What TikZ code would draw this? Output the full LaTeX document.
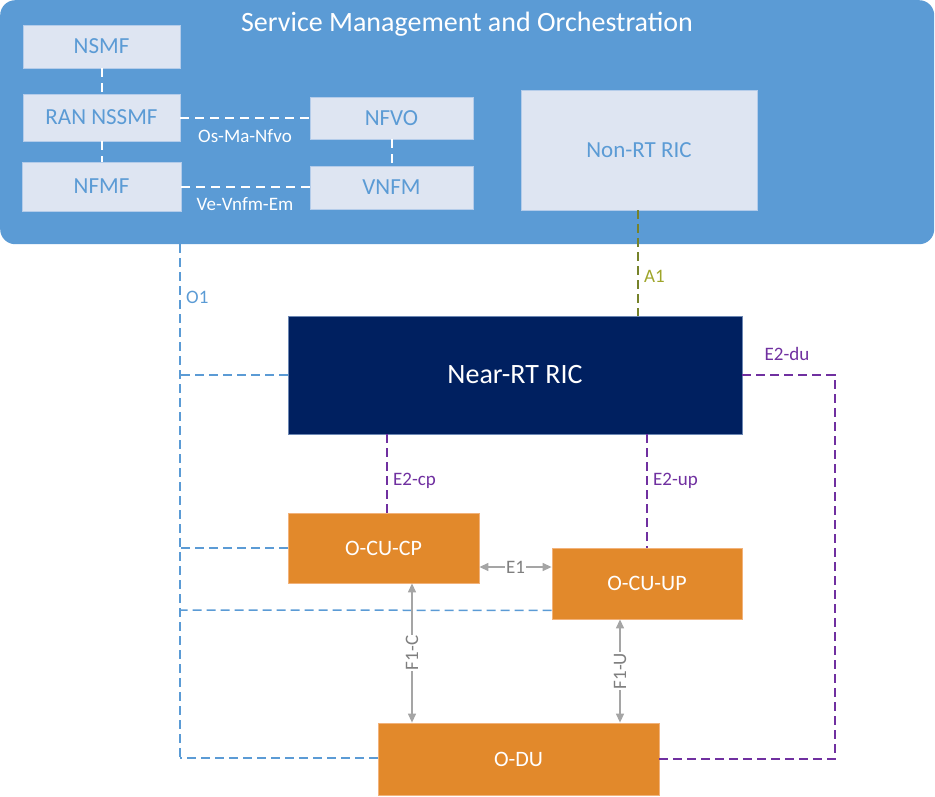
\documentclass[tikz,border=0pt]{standalone}
\usepackage{fontspec}
\setmainfont{Carlito}
\usetikzlibrary{arrows.meta,calc}
\definecolor{smoblue}{HTML}{5B9BD5}
\definecolor{lightbox}{HTML}{DEE5F2}
\definecolor{lightedge}{HTML}{B4CCEA}
\definecolor{navy}{HTML}{002060}
\definecolor{orng}{HTML}{E2892B}
\definecolor{orngedge}{HTML}{F2B27A}
\definecolor{purp}{HTML}{7030A0}
\definecolor{oliveline}{HTML}{76822A}
\definecolor{olivetext}{HTML}{9EA52A}
\definecolor{arrgray}{HTML}{A5A5A5}
\definecolor{txtgray}{HTML}{7F7F7F}
\tikzset{
  smobox/.style={rectangle, fill=lightbox, draw=lightedge, line width=0.8pt, text=smoblue, font=\fontsize{23}{26}\selectfont, inner sep=0pt},
  orbox/.style={rectangle, fill=orng, draw=orngedge, line width=0.8pt, text=white, font=\fontsize{22}{25}\selectfont, inner sep=0pt},
  whdash/.style={draw=white, line width=2pt, dash pattern=on 9pt off 6pt},
  bldash/.style={draw=smoblue, line width=1.5pt, dash pattern=on 9pt off 5pt},
  pudash/.style={draw=purp, line width=1.5pt, dash pattern=on 9pt off 5pt},
  oldash/.style={draw=oliveline, line width=1.5pt, dash pattern=on 9pt off 5pt},
  grarrow/.style={draw=arrgray, line width=1.3pt, {Triangle[length=9pt,width=8pt]}-{Triangle[length=9pt,width=8pt]}},
  lbl/.style={font=\fontsize{19}{21}\selectfont, inner sep=1pt},
}
\begin{document}
\begin{tikzpicture}[x=1pt,y=-1pt]
\useasboundingbox (0,0) rectangle (935,796);
% SMO frame
\node[rectangle, rounded corners=15pt, fill=smoblue, draw=none, anchor=north west, minimum width=934pt, minimum height=244pt, inner sep=0pt] (smo) at (0,0) {};
\node[text=white, font=\fontsize{28}{30}\selectfont] (title) at (467,24) {Service Management and Orchestration};
% SMO boxes
\node[smobox, minimum width=157pt, minimum height=43pt] (nsmf) at (101.5,46.5) {NSMF};
\node[smobox, minimum width=157pt, minimum height=47pt] (nssmf) at (101.5,117.5) {RAN NSSMF};
\node[smobox, minimum width=159pt, minimum height=49pt] (nfmf) at (101.5,186.5) {NFMF};
\node[smobox, minimum width=163pt, minimum height=42pt] (nfvo) at (391.5,118) {NFVO};
\node[smobox, minimum width=163pt, minimum height=43pt] (vnfm) at (391.5,187.5) {VNFM};
\node[smobox, minimum width=236pt, minimum height=120pt] (nonrt) at (639,150) {Non-RT RIC};
% SMO internal links
\draw[whdash] (nsmf.south) -- (nssmf.north);
\draw[whdash] (nssmf.south) -- (nfmf.north);
\draw[whdash] (nfvo.south) -- (vnfm.north);
\draw[whdash] (nssmf.east) -- (nfvo.west |- nssmf.east);
\draw[whdash] (nfmf.east) -- (vnfm.west |- nfmf.east);
\node[lbl, text=white] (osma) at (245,136) {Os-Ma-Nfvo};
\node[lbl, text=white] (vevn) at (245,204) {Ve-Vnfm-Em};
% RAN nodes
\node[rectangle, fill=navy, draw=lightedge!60!navy, line width=0.8pt, text=white, font=\fontsize{28}{30}\selectfont, minimum width=454pt, minimum height=118pt, inner sep=0pt] (near) at (515,375) {Near-RT RIC};
\node[orbox, minimum width=191pt, minimum height=70pt] (cucp) at (383.5,548) {O-CU-CP};
\node[orbox, minimum width=190pt, minimum height=71pt] (cuup) at (647,583.5) {O-CU-UP};
\node[orbox, minimum width=281pt, minimum height=72pt] (odu) at (518.5,759) {O-DU};
% O1
\coordinate (o1top) at (180,244);
\coordinate (o1bot) at (180,758);
\draw[bldash] (o1top) -- (o1bot);
\draw[bldash] (near.west) -- (near.west -| o1top);
\draw[bldash] (cucp.west) -- (cucp.west -| o1top);
\draw[bldash] ($(cuup.south west)+(0,-9)$) -- (180,610);
\draw[bldash] (odu.west |- o1bot) -- (o1bot);
\node[lbl, text=smoblue, anchor=west] (o1) at (185,297) {O1};
% A1
\draw[oldash] (nonrt.south -| 638,0) -- (near.north -| 638,0);
\node[lbl, text=olivetext, anchor=west] (a1) at (643,276) {A1};
% E2
\draw[pudash] (near.south -| 387,0) -- (cucp.north -| 387,0);
\node[lbl, text=purp, anchor=west] (e2cp) at (392,481) {E2-cp};
\draw[pudash] (near.south -| cuup.north) -- (cuup.north);
\node[lbl, text=purp, anchor=west] (e2up) at (652,481) {E2-up};
\coordinate (e2c) at (835,375);
\draw[pudash] (near.east) -- (e2c) |- (odu.east);
\node[lbl, text=purp] (e2du) at (787,354) {E2-du};
% E1, F1
\draw[grarrow] (cucp.east |- 0,567) -- (cuup.west |- 0,567) node[midway, fill=white, text=txtgray, lbl] {E1};
\draw[grarrow] (cucp.south -| 412,0) -- (odu.north -| 412,0) node[midway, fill=white, text=txtgray, lbl, rotate=90] {F1-C};
\draw[grarrow] (cuup.south -| 620,0) -- (odu.north -| 620,0) node[midway, fill=white, text=txtgray, lbl, rotate=90] {F1-U};
\end{tikzpicture}
\end{document}
